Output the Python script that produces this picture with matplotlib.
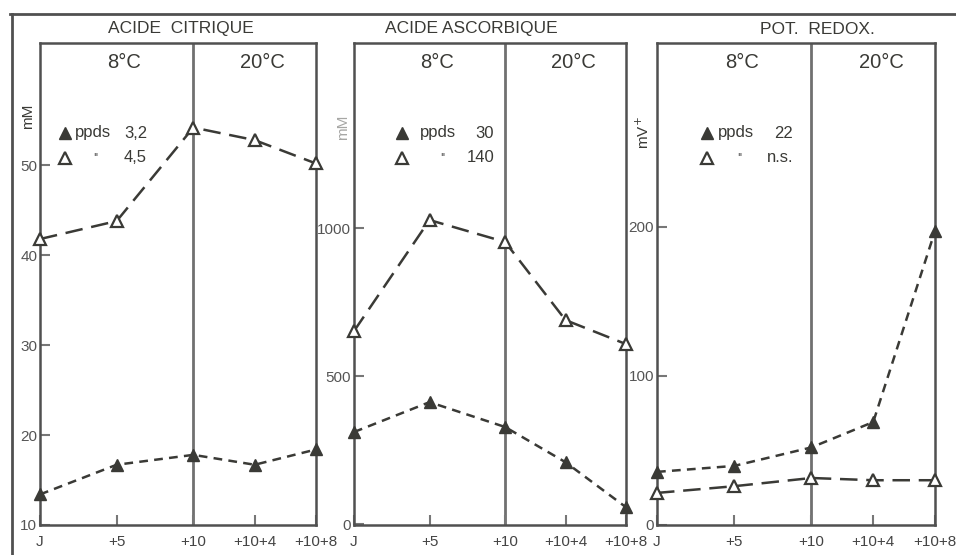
#!/usr/bin/env python3
"""Three-panel chart: citric acid, ascorbic acid and redox potential over storage time."""

import matplotlib

matplotlib.use("Agg")
import matplotlib.pyplot as plt
from matplotlib.lines import Line2D

plt.rcParams["font.family"] = ["Liberation Sans", "DejaVu Sans"]

# storage time (days): J, +5, +10 (8 °C), then +10+4, +10+8 (20 °C)
days = [0, 5, 10, 14, 18]
day_labels = ["J", "+5", "+10", "+10+4", "+10+8"]

citric_filled = [13.4, 16.7, 17.8, 16.7, 18.4]
citric_open = [41.8, 43.8, 54.2, 52.8, 50.2]

ascorbic_filled = [311, 412, 328, 209, 57]
ascorbic_open = [652, 1027, 953, 689, 608]

redox_filled = [35.6, 39.6, 52, 69, 197]
redox_open = [21.5, 26, 31.5, 30, 30]

W, H = 956, 555
INK = "#3a3a36"
FRAME = "#505050"
AX_H = 482  # axes height in pixels


def px_axes(fig, left, right, top, bottom):
    return fig.add_axes([left / W, (H - bottom) / H, (right - left) / W, (bottom - top) / H])


def draw_panel(ax, filled, opened, ylim, yticks, title, title_x, legend, ylabel, ylabel_pos,
               ylabel_alpha=1.0):
    ax.plot(days, opened, color=INK, lw=1.8, dashes=(7, 3.5), marker="^", ms=9,
            mfc="white", mec=INK, mew=1.6, clip_on=False, zorder=4)
    ax.plot(days, filled, color=INK, lw=1.8, dashes=(3.5, 2.5), marker="^", ms=9,
            mfc=INK, mec=INK, clip_on=False, zorder=4)
    ax.axvline(10, color="#707070", lw=2, zorder=1)
    ax.set_xlim(0, 18)
    ax.set_ylim(*ylim)
    ax.set_xticks(days)
    ax.set_xticklabels(day_labels, fontsize=11, color="#444444")
    ax.set_yticks(yticks)
    ax.set_yticklabels([str(t) for t in yticks], fontsize=11, color="#555555")
    ax.tick_params(direction="in", length=7, width=1.5, color="#777777")
    ax.tick_params(axis="x", pad=7)
    ax.tick_params(axis="y", pad=2)
    for s in ax.spines.values():
        s.set_color(FRAME)
        s.set_linewidth(1.8)

    # temperature headers
    ax.text(5.5, 1 - 19 / AX_H, "8°C", transform=ax.get_xaxis_transform(),
            ha="center", va="center", fontsize=14.5, color=INK)
    ax.text(14.5, 1 - 19 / AX_H, "20°C", transform=ax.get_xaxis_transform(),
            ha="center", va="center", fontsize=14.5, color=INK)

    fig = ax.get_figure()
    # panel title above the axes
    fig.text(title_x / W, 1 - 29 / H, title, ha="center", va="center",
             fontsize=12.5, color=INK)

    # hand-drawn style legend (pixel offsets from the axes' left edge)
    x0, w = ax.get_position().x0 * W, ax.get_position().width * W
    (mx, tx1, qx, tx2), (sig1, sig2) = legend
    tr = ax.transAxes
    y1, y2 = 1 - 90 / AX_H, 1 - 115 / AX_H
    ax.plot([(mx - x0) / w], [y1], marker="^", ms=9, color=INK, transform=tr, clip_on=False)
    ax.plot([(mx - x0) / w], [y2], marker="^", ms=9, mfc="white", mec=INK, mew=1.6,
            transform=tr, clip_on=False)
    ax.text((tx1 - x0) / w, y1, "ppds", transform=tr, ha="left", va="center",
            fontsize=12, color=INK)
    ax.text((tx2 - x0) / w, y1, sig1, transform=tr, ha="right", va="center",
            fontsize=12, color=INK)
    ax.text((qx - x0) / w, y2 - 0.002, "''", transform=tr, ha="center", va="center",
            fontsize=10, color="#666666")
    ax.text((tx2 - x0) / w, y2, sig2, transform=tr, ha="right", va="center",
            fontsize=12, color=INK)

    lx, ly = ylabel_pos
    fig.text(lx / W, 1 - ly / H, ylabel, rotation=90, ha="center", va="center",
             fontsize=11, color=INK, alpha=ylabel_alpha)


fig = plt.figure(figsize=(W / 100, H / 100), dpi=100)

# outer frame (top and left rules)
fig.add_artist(Line2D([10 / W, 1], [1 - 14 / H, 1 - 14 / H], color=FRAME, lw=2))
fig.add_artist(Line2D([12 / W, 12 / W], [1 - 14 / H, 0], color=FRAME, lw=2))

ax1 = px_axes(fig, 40, 316, 43, 525)
draw_panel(ax1, citric_filled, citric_open, (10, 63.6), [10, 20, 30, 40, 50],
           "ACIDE  CITRIQUE", 181,
           ((65, 75, 96, 147), ("3,2", "4,5")),
           "mM", (28, 116))

ax2 = px_axes(fig, 354, 626, 43, 525)
draw_panel(ax2, ascorbic_filled, ascorbic_open, (-3, 1625), [0, 500, 1000],
           "ACIDE ASCORBIQUE", 471,
           ((402, 420, 443, 494), ("30", "140")),
           "mM", (343, 127), ylabel_alpha=0.45)

ax3 = px_axes(fig, 657, 935, 43, 525)
draw_panel(ax3, redox_filled, redox_open, (0, 323), [0, 100, 200],
           "POT.  REDOX.", 817,
           ((707, 718, 740, 793), ("22", "n.s.")),
           "mV$^{+}$", (643, 133))

fig.savefig("out.png", dpi=100)
plt.close(fig)
